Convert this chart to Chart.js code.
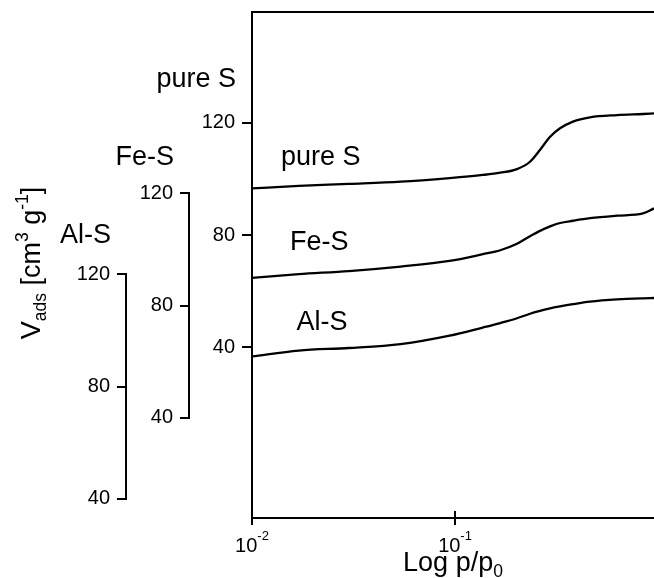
<!DOCTYPE html>
<html>
<head>
<meta charset="utf-8">
<script src="https://cdn.jsdelivr.net/npm/chart.js@4.4.1/dist/chart.umd.min.js"></script>
<style>
  html, body { margin: 0; padding: 0; background: #fff; }
  #wrap { position: relative; width: 654px; height: 578px; }
</style>
</head>
<body>
<div id="wrap"><canvas id="chart"></canvas></div>
<script>
// relative pressure p/p0 (log axis)
const pressure = [0.010, 0.017, 0.030, 0.054, 0.094, 0.137, 0.167, 0.202, 0.234, 0.262, 0.294, 0.329, 0.381, 0.462, 0.628, 0.843, 0.955];

// adsorbed volume, cm3/g, each read on its own offset axis
const pureS = [96.6, 97.5, 98.2, 99.0, 100.3, 101.4, 102.2, 103.5, 106.1, 110.3, 115.0, 118.0, 120.4, 121.9, 122.7, 123.1, 123.3];
const feS   = [89.9, 91.2, 92.3, 93.9, 95.9, 98.3, 99.7, 102.0, 104.7, 106.6, 108.2, 109.4, 110.2, 111.1, 112.0, 112.8, 114.6];
const alS   = [90.7, 92.8, 93.7, 95.1, 98.1, 101.0, 102.6, 104.3, 105.9, 106.9, 107.8, 108.5, 109.3, 110.2, 111.0, 111.4, 111.5];

const seriesNames = ['pure S', 'Fe-S', 'Al-S'];
const yTickValues = [40, 80, 120];
const xTickValues = [0.01, 0.1];
const xTickLabels = [['10', '-2'], ['10', '-1']];

const black = '#000';
const fam = '"Liberation Sans", Arial, Helvetica, sans-serif';

function onlyTicks(values) {
  return (scale) => { scale.ticks = values.map(v => ({ value: v })); };
}

function yAxis(min, max, weight, width, showBorder) {
  return {
    type: 'linear',
    position: 'left',
    min: min,
    max: max,
    weight: weight,
    afterBuildTicks: onlyTicks(yTickValues),
    afterFit: (s) => { s.width = width; s.paddingTop = 0; s.paddingBottom = 0; },
    border: { display: showBorder, color: black, width: 2 },
    grid: { drawOnChartArea: false, drawTicks: true, tickLength: 10, color: black, lineWidth: 2 },
    ticks: { color: black, padding: 7, font: { family: fam, size: 20 } }
  };
}

// text with sub/superscript pieces
function richWidth(ctx, parts, size) {
  let w = 0;
  parts.forEach(p => {
    const fs = p.s ? size * 0.65 : size;
    ctx.font = fs + 'px ' + fam;
    w += ctx.measureText(p.t).width;
  });
  return w;
}
function drawRich(ctx, parts, x, y, size, align, supRise) {
  const w = richWidth(ctx, parts, size);
  let cx = align === 'center' ? x - w / 2 : (align === 'right' ? x - w : x);
  ctx.textAlign = 'left';
  ctx.textBaseline = 'alphabetic';
  parts.forEach(p => {
    const fs = p.s ? size * 0.65 : size;
    ctx.font = fs + 'px ' + fam;
    let dy = 0;
    if (p.s === 'sup') dy = -size * (supRise || 0.45);
    if (p.s === 'sub') dy = size * 0.22;
    ctx.fillText(p.t, cx, y + dy);
    cx += ctx.measureText(p.t).width;
  });
}

const extras = {
  id: 'extras',
  afterDraw(chart) {
    const ctx = chart.ctx;
    const a = chart.chartArea;
    const xs = chart.scales.x;
    ctx.save();
    ctx.strokeStyle = black;
    ctx.fillStyle = black;
    ctx.lineWidth = 2;

    // top frame line
    ctx.beginPath();
    ctx.moveTo(a.left - 1, a.top);
    ctx.lineTo(a.right, a.top);
    ctx.stroke();

    // 10^-1 tick crosses the axis
    const x1 = xs.getPixelForValue(0.1);
    ctx.beginPath();
    ctx.moveTo(x1, a.bottom - 7);
    ctx.lineTo(x1, a.bottom);
    ctx.stroke();

    // short axis spines for the offset scales
    ['yFe', 'yAl'].forEach(id => {
      const s = chart.scales[id];
      const top = s.getPixelForValue(120);
      const bot = s.getPixelForValue(40);
      ctx.beginPath();
      ctx.moveTo(s.right - 1, top - 1);
      ctx.lineTo(s.right - 1, bot + 1);
      ctx.stroke();
    });

    // axis names above each scale
    ctx.font = '27px ' + fam;
    ctx.textAlign = 'right';
    ctx.textBaseline = 'alphabetic';
    const nameAt = [['y', 132.6], ['yFe', 130], ['yAl', 131]];
    nameAt.forEach((n, i) => {
      const s = chart.scales[n[0]];
      ctx.fillText(seriesNames[i], s.right - 16, s.getPixelForValue(n[1]));
    });

    // curve labels inside the plot
    ctx.textAlign = 'left';
    const inside = [['y', 29, 104.9], ['yFe', 38, 99.8], ['yAl', 44.5, 100.2]];
    inside.forEach((n, i) => {
      const s = chart.scales[n[0]];
      ctx.fillText(seriesNames[i], a.left + n[1], s.getPixelForValue(n[2]));
    });

    // x tick labels 10^n
    xTickValues.forEach((v, i) => {
      const lab = xTickLabels[i];
      drawRich(ctx, [{ t: lab[0] }, { t: lab[1], s: 'sup' }], xs.getPixelForValue(v), a.bottom + 34, 20, 'center', 0.58);
    });

    // x title
    drawRich(ctx, [{ t: 'Log p/p' }, { t: '0', s: 'sub' }], (a.left + a.right) / 2, a.bottom + 53, 27, 'center');

    // y title (rotated)
    ctx.translate(40, 263);
    ctx.rotate(-Math.PI / 2);
    drawRich(ctx, [{ t: 'V' }, { t: 'ads', s: 'sub' }, { t: ' [cm' }, { t: '3', s: 'sup' }, { t: ' g' }, { t: '-1', s: 'sup' }, { t: ']' }], 0, 0, 27, 'center');
    ctx.restore();
  }
};

const line = (vals, axis) => ({
  data: pressure.map((p, i) => ({ x: p, y: vals[i] })),
  yAxisID: axis,
  borderColor: black,
  borderWidth: 2.3,
  pointRadius: 0,
  fill: false,
  cubicInterpolationMode: 'monotone'
});

new Chart(document.getElementById('chart'), {
  type: 'line',
  data: {
    datasets: [
      line(pureS, 'y'),
      line(feS, 'yFe'),
      line(alS, 'yAl')
    ]
  },
  options: {
    responsive: true,
    maintainAspectRatio: false,
    animation: false,
    layout: { padding: { left: 57, top: 12, right: 0, bottom: 0 } },
    plugins: { legend: { display: false }, tooltip: { enabled: false } },
    scales: {
      x: {
        type: 'logarithmic',
        position: 'bottom',
        min: 0.01,
        max: 0.955,
        afterBuildTicks: onlyTicks(xTickValues),
        afterFit: (s) => { s.height = 60; s.paddingLeft = 0; s.paddingRight = 0; },
        border: { display: true, color: black, width: 2 },
        grid: { drawOnChartArea: false, drawTicks: true, tickLength: 7, color: black, lineWidth: 2 },
        ticks: { display: false }
      },
      y: yAxis(-20.7, 159.4, 0, 62, true),
      yFe: yAxis(4.4, 184.5, 1, 63, false),
      yAl: yAxis(33.2, 213.3, 2, 70, false)
    }
  },
  plugins: [extras]
});
</script>
</body>
</html>
